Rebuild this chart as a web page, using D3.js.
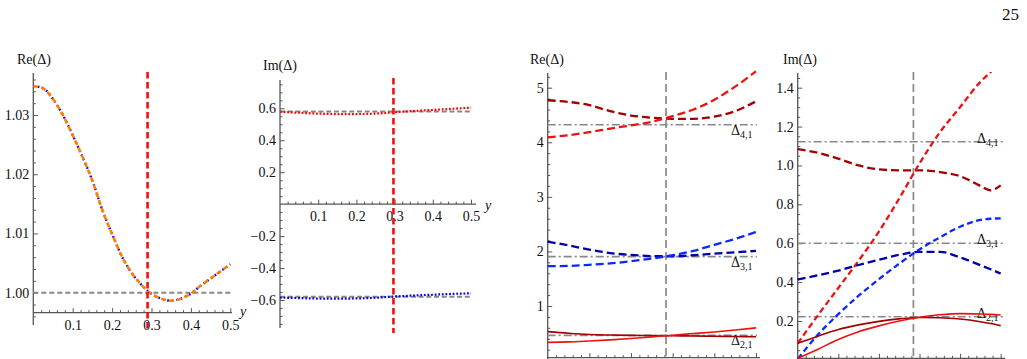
<!DOCTYPE html>
<html><head><meta charset="utf-8">
<script src="https://cdn.jsdelivr.net/npm/d3@7"></script>
<style>
body{margin:0;background:#fff}
svg{display:block}
text{font-family:"Liberation Serif","Times New Roman",Times,"DejaVu Serif",serif;fill:#111}
</style>
</head><body>
<svg id="c" width="1027" height="359"></svg>
<script>
// ---------------- DATA ----------------
const pageNumber = "25";
// Panel 1: Re(Delta) vs y
const p1X  = [0,0.025,0.05,0.075,0.1,0.125,0.15,0.175,0.2,0.225,0.25,0.275,0.3,0.325,0.35,0.375,0.4,0.425,0.45,0.475,0.5];
const p1Re = [1.0349,1.0345,1.0327,1.0300,1.0266,1.0229,1.0189,1.0140,1.0099,1.0061,1.0033,1.0013,0.9998,0.9990,0.99865,0.9990,0.99985,1.0012,1.0024,1.0036,1.0048];
const p1Ref = 1.00;
const p1Marker = 0.29;
const p1YTicks = [1.00,1.01,1.02,1.03];
const p1XTicks = [0.1,0.2,0.3,0.4,0.5];

// Panel 2: Im(Delta) vs y
const p2X    = [0,0.05,0.1,0.15,0.2,0.25,0.3,0.35,0.4,0.45,0.5];
const p2ImUp = [0.578,0.572,0.567,0.564,0.564,0.567,0.575,0.583,0.590,0.597,0.604];
const p2ImDn = [-0.585,-0.588,-0.591,-0.592,-0.590,-0.586,-0.578,-0.572,-0.567,-0.562,-0.558];
const p2Ref = [0.58,-0.58];
const p2Marker = 0.297;
const p2YTicks = [-0.6,-0.4,-0.2,0.2,0.4,0.6];
const p2XTicks = [0.1,0.2,0.3,0.4,0.5];

// Panel 3: Re(Delta) for three pairs
const p3X = [0,0.05,0.1,0.15,0.2,0.25,0.3,0.35,0.4,0.45,0.5];
const p3Re4Dark   = [4.77,4.74,4.68,4.57,4.49,4.45,4.43,4.43,4.47,4.57,4.75];
const p3Re4Bright = [4.09,4.13,4.185,4.25,4.31,4.375,4.48,4.60,4.78,5.02,5.30];
const p3Re3Dark   = [2.18,2.11,2.035,1.97,1.935,1.915,1.91,1.93,1.96,1.985,2.01];
const p3Re3Bright = [1.73,1.735,1.755,1.78,1.82,1.87,1.93,2.01,2.12,2.23,2.355];
const p3Re2Dark   = [0.53,0.50,0.478,0.468,0.462,0.458,0.454,0.45,0.445,0.44,0.437];
const p3Re2Bright = [0.334,0.342,0.36,0.38,0.405,0.435,0.465,0.495,0.525,0.56,0.60];
const p3Refs = [4.32,1.905,0.462];
const p3RefLabels = ["4,1","3,1","2,1"];
const p3Marker = 0.284;
const p3YTicks = [1,2,3,4,5];
const pXTicks = [0.1,0.2,0.3,0.4,0.5];

// Panel 4: Im(Delta) for three pairs
const p4X = [0,0.05,0.1,0.15,0.2,0.25,0.3,0.35,0.4,0.45,0.475,0.5];
const p4Im4Dark   = [1.084,1.065,1.035,1.0,0.98,0.975,0.975,0.966,0.945,0.895,0.872,0.898];
const p4Im4Bright = [0.085,0.23,0.37,0.51,0.66,0.83,1.01,1.17,1.30,1.43,1.48,1.53];
const p4Im3Dark   = [0.414,0.435,0.459,0.488,0.515,0.54,0.556,0.556,0.527,0.487,0.466,0.444];
const p4Im3Bright = [0.005,0.13,0.235,0.33,0.415,0.495,0.568,0.63,0.685,0.72,0.726,0.728];
const p4Im2Dark   = [0.085,0.122,0.156,0.18,0.198,0.211,0.218,0.217,0.21,0.196,0.187,0.176];
const p4Im2Bright = [0.008,0.055,0.105,0.145,0.175,0.2,0.219,0.232,0.238,0.236,0.234,0.231];
const p4Refs = [1.122,0.6,0.222];
const p4RefLabels = ["4,1","3,1","2,1"];
const p4Marker = 0.285;
const p4YTicks = [0.2,0.4,0.6,0.8,1.0,1.2,1.4];

// ---------------- DRAWING ----------------
const FONT = '"Liberation Serif","Times New Roman",Times,"DejaVu Serif",serif';
const svg = d3.select("#c");
const AX = "#555";
const DARKRED = "#a00000", RED = "#ee1111", DARKBLUE = "#0000a8", BLUE = "#0a28ff", GRAY = "#888";

function zip(xs, ys){ return xs.map((x,i)=>[x,ys[i]]); }

function axes(g, o){
  const {x, y, xAxisY, yAxisX, yTop, yBot, xEnd, yMaj, yMin, yFmt, xMaj, xMin, xLabels} = o;
  g.append("line").attr("x1",yAxisX).attr("x2",yAxisX).attr("y1",yTop).attr("y2",yBot)
    .attr("stroke",AX).attr("stroke-width",1.3);
  g.append("line").attr("x1",yAxisX).attr("x2",xEnd).attr("y1",xAxisY).attr("y2",xAxisY)
    .attr("stroke",AX).attr("stroke-width",1.3);
  const ya = g.append("g").attr("transform",`translate(${yAxisX},0)`)
    .call(d3.axisLeft(y).tickValues(yMaj).tickSize(-4.5).tickPadding(4).tickFormat(yFmt));
  ya.attr("font-family",FONT);
  ya.select(".domain").remove();
  ya.selectAll("line").attr("stroke",AX);
  ya.selectAll("text").attr("font-size",14).attr("fill","#111").attr("font-family",FONT);
  const ym = g.append("g").attr("transform",`translate(${yAxisX},0)`)
    .call(d3.axisLeft(y).tickValues(yMin).tickSize(-2.5).tickFormat(""));
  ym.select(".domain").remove(); ym.selectAll("line").attr("stroke",AX);
  const xa = g.append("g").attr("transform",`translate(0,${xAxisY})`)
    .call(d3.axisBottom(x).tickValues(xMaj).tickSize(-4.5).tickPadding(7)
      .tickFormat(xLabels ? (d=>d.toFixed(1)) : ""));
  xa.attr("font-family",FONT);
  xa.select(".domain").remove();
  xa.selectAll("line").attr("stroke",AX);
  xa.selectAll("text").attr("font-size",14).attr("fill","#111").attr("font-family",FONT);
  if(!xLabels) xa.selectAll("text").remove();
  const xm = g.append("g").attr("transform",`translate(0,${xAxisY})`)
    .call(d3.axisBottom(x).tickValues(xMin).tickSize(-2.5).tickFormat(""));
  xm.select(".domain").remove(); xm.selectAll("line").attr("stroke",AX);
  xm.selectAll("text").remove();
}
function range(a,b,s){ const r=[]; for(let v=a; v<=b+1e-9; v+=s) r.push(+v.toFixed(6)); return r; }
function label(g, x, y, t, italic){
  g.append("text").attr("x",x).attr("y",y).attr("font-size",14).attr("font-family",FONT)
   .attr("font-style",italic?"italic":null).text(t);
}
function curve(g, x, y, xs, ys, color, width, dash, cap){
  g.append("path").datum(zip(xs,ys))
   .attr("d", d3.line().x(d=>x(d[0])).y(d=>y(d[1])).curve(d3.curveMonotoneX))
   .attr("fill","none").attr("stroke",color).attr("stroke-width",width)
   .attr("stroke-dasharray",dash).attr("stroke-linecap",cap||"butt");
}
function deltaLabel(g, x, y, sub){
  const t = g.append("text").attr("x",x).attr("y",y).attr("font-size",14).attr("font-family",FONT);
  t.append("tspan").text("\u0394");
  t.append("tspan").attr("font-size",10).attr("dy",3).text(sub);
}

svg.append("text").attr("x",1019).attr("y",20).attr("text-anchor","end").attr("font-size",17)
  .attr("font-family",FONT).text(pageNumber);

// ---- Panel 1
{
  const g = svg.append("g");
  const x = d3.scaleLinear().domain([0,0.5]).range([33.3,230.3]);
  const y = d3.scaleLinear().domain([1.00,1.03]).range([292.7,115]);
  axes(g,{x,y,xAxisY:y(0.99663),yAxisX:x(0),yTop:73,yBot:325,xEnd:232,xLabels:true,
    yMaj:p1YTicks,yMin:range(0.996,1.036,0.002).filter(v=>!p1YTicks.some(t=>Math.abs(t-v)<1e-6)),
    yFmt:d=>d.toFixed(2),xMaj:p1XTicks,xMin:range(0.02,0.5,0.02).filter(v=>Math.abs(v*10-Math.round(v*10))>1e-6)});
  g.append("line").attr("x1",x(0)).attr("x2",x(0.5)).attr("y1",y(p1Ref)).attr("y2",y(p1Ref))
    .attr("stroke",GRAY).attr("stroke-width",2).attr("stroke-dasharray","5,3");
  curve(g,x,y,p1X,p1Re,"#0000ff",2.4,"1.6,3","butt");
  curve(g,x,y,p1X,p1Re,"#ff8000",2.6,"5,3","butt");
  g.append("line").attr("x1",x(p1Marker)).attr("x2",x(p1Marker)).attr("y1",72).attr("y2",332)
    .attr("stroke","#f01010").attr("stroke-width",2.6).attr("stroke-dasharray","6.5,3.5");
  label(g,17,64,"Re(\u0394)");
  label(g,240,316,"y",true);
}
// ---- Panel 2
{
  const g = svg.append("g");
  const x = d3.scaleLinear().domain([0,0.5]).range([280,471]);
  const y = d3.scaleLinear().domain([-0.6,0.6]).range([300,108.3]);
  axes(g,{x,y,xAxisY:y(0),yAxisX:x(0),yTop:80,yBot:328,xEnd:476,xLabels:true,
    yMaj:p2YTicks,yMin:range(-0.75,0.75,0.05).filter(v=>Math.abs(v*5-Math.round(v*5))>1e-6),
    yFmt:d=>(d<0?"\u2212":"")+Math.abs(d).toFixed(1),xMaj:p2XTicks,
    xMin:range(0.02,0.5,0.02).filter(v=>Math.abs(v*10-Math.round(v*10))>1e-6)});
  p2Ref.forEach(r=>g.append("line").attr("x1",x(0)).attr("x2",x(0.5)).attr("y1",y(r)).attr("y2",y(r))
    .attr("stroke",GRAY).attr("stroke-width",2).attr("stroke-dasharray","5,2.7"));
  curve(g,x,y,p2X,p2ImUp,"#ff0000",2.2,"1.8,1.8");
  curve(g,x,y,p2X,p2ImDn,"#0000ff",2.2,"1.8,1.8");
  g.append("line").attr("x1",x(p2Marker)).attr("x2",x(p2Marker)).attr("y1",78).attr("y2",333)
    .attr("stroke","#f01010").attr("stroke-width",2.6).attr("stroke-dasharray","6.5,3.5");
  label(g,263,70,"Im(\u0394)");
  label(g,485,210,"y",true);
}
// ---- Panel 3
{
  const g = svg.append("g");
  const x = d3.scaleLinear().domain([0,0.5]).range([547.7,756]);
  const y = d3.scaleLinear().domain([1,5]).range([306,87.7]);
  axes(g,{x,y,xAxisY:357.7,yAxisX:x(0),yTop:73,yBot:362,xEnd:760,xLabels:false,
    yMaj:p3YTicks,yMin:range(0.2,5.2,0.2).filter(v=>Math.abs(v-Math.round(v))>1e-6),
    yFmt:d=>String(d),xMaj:pXTicks,
    xMin:range(0.02,0.5,0.02).filter(v=>Math.abs(v*10-Math.round(v*10))>1e-6)});
  p3Refs.forEach((r,i)=>{
    g.append("line").attr("x1",x(0)).attr("x2",757).attr("y1",y(r)).attr("y2",y(r))
      .attr("stroke",GRAY).attr("stroke-width",1.6).attr("stroke-dasharray","8,3,2,3");
    deltaLabel(g,731,y(r)+10,p3RefLabels[i]);
  });
  g.append("line").attr("x1",x(p3Marker)).attr("x2",x(p3Marker)).attr("y1",72).attr("y2",359)
    .attr("stroke",GRAY).attr("stroke-width",1.7).attr("stroke-dasharray","8,4");
  curve(g,x,y,p3X,p3Re4Dark,DARKRED,2.3,"8,4");
  curve(g,x,y,p3X,p3Re4Bright,RED,2.3,"8,4");
  curve(g,x,y,p3X,p3Re3Dark,DARKBLUE,2.3,"8,4");
  curve(g,x,y,p3X,p3Re3Bright,BLUE,2.3,"8,4");
  curve(g,x,y,p3X,p3Re2Dark,DARKRED,1.6,null);
  curve(g,x,y,p3X,p3Re2Bright,RED,1.6,null);
  label(g,530,64,"Re(\u0394)");
}
// ---- Panel 4
{
  const g = svg.append("g");
  const x = d3.scaleLinear().domain([0,0.5]).range([797.7,1000.7]);
  const y = d3.scaleLinear().domain([0.2,1.4]).range([321,87.7]);
  svg.append("clipPath").attr("id","cp4").append("rect").attr("x",790).attr("y",72).attr("width",230).attr("height",300);
  axes(g,{x,y,xAxisY:358.3,yAxisX:x(0),yTop:73,yBot:362,xEnd:1005,xLabels:false,
    yMaj:p4YTicks,yMin:range(0.05,1.45,0.05).filter(v=>Math.abs(v*5-Math.round(v*5))>1e-6),
    yFmt:d=>d.toFixed(1),xMaj:pXTicks,
    xMin:range(0.02,0.5,0.02).filter(v=>Math.abs(v*10-Math.round(v*10))>1e-6)});
  p4Refs.forEach((r,i)=>{
    g.append("line").attr("x1",x(0)).attr("x2",1005).attr("y1",y(r)).attr("y2",y(r))
      .attr("stroke",GRAY).attr("stroke-width",1.6).attr("stroke-dasharray","8,3,2,3");
    deltaLabel(g,977,y(r)+1,p4RefLabels[i]);
  });
  g.append("line").attr("x1",x(p4Marker)).attr("x2",x(p4Marker)).attr("y1",72).attr("y2",359)
    .attr("stroke",GRAY).attr("stroke-width",1.7).attr("stroke-dasharray","8,4");
  const gc = g.append("g").attr("clip-path","url(#cp4)");
  curve(gc,x,y,p4X,p4Im4Dark,DARKRED,2.3,"8,4");
  curve(gc,x,y,p4X,p4Im4Bright,RED,2.3,"6,3.5");
  curve(gc,x,y,p4X,p4Im3Dark,DARKBLUE,2.3,"8,4");
  curve(gc,x,y,p4X,p4Im3Bright,BLUE,2.3,"6,3.5");
  curve(gc,x,y,p4X,p4Im2Dark,DARKRED,1.6,null);
  curve(gc,x,y,p4X,p4Im2Bright,RED,1.6,null);
  label(g,783,64,"Im(\u0394)");
}
</script>
</body></html>
